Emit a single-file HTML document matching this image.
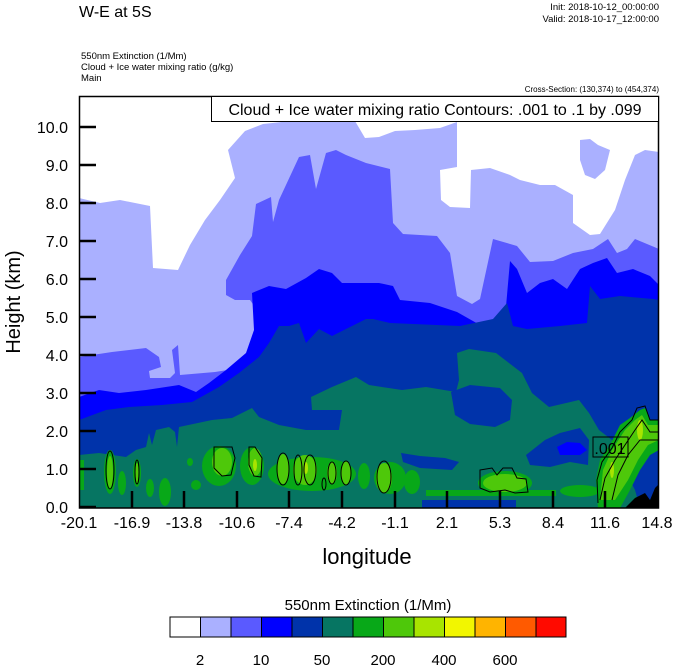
<!DOCTYPE html>
<html><head><meta charset="utf-8"><style>
html,body{margin:0;padding:0;background:#fff;}
svg{display:block;font-family:"Liberation Sans",sans-serif;}
</style></head><body>
<svg width="674" height="667" viewBox="0 0 674 667" xmlns="http://www.w3.org/2000/svg">
<rect width="674" height="667" fill="#fff"/>
<text x="79" y="17" font-size="16">W-E at 5S</text>
<text x="659" y="10" font-size="9.5" text-anchor="end">Init: 2018-10-12_00:00:00</text>
<text x="659" y="22" font-size="9.5" text-anchor="end">Valid: 2018-10-17_12:00:00</text>
<text x="81" y="59" font-size="9.5">550nm Extinction   (1/Mm)</text>
<text x="81" y="70" font-size="9.5">Cloud + Ice water mixing ratio   (g/kg)</text>
<text x="81" y="81" font-size="9.5">Main</text>
<text x="659" y="92" font-size="8" text-anchor="end">Cross-Section: (130,374) to (454,374)</text>
<defs><clipPath id="c"><rect x="79" y="96" width="580" height="412"/></clipPath></defs>
<g clip-path="url(#c)">
<rect x="79" y="96" width="580" height="412" fill="#fff"/>
<polygon fill="#aab0ff" points="79,198 100,203 120,200 150,206 153,268 178,270 190,245 205,220 220,200 235,178 228,150 245,131 263,124 300,120 330,118 355,121 365,138 379,137 395,131 415,130 440,128 457,122 457,167 440,170 441,200 450,207 470,208 471,170 490,168 510,175 520,180 540,185 555,185 573,195 573,223 590,235 600,234 615,210 625,180 635,155 645,150 659,152 659,508 79,508"/>
<polygon fill="#aab0ff" points="580,140 590,139 598,145 610,150 605,170 595,179 585,175 580,160"/>
<polygon fill="#5a5aff" points="79,357 112,352 146,348 159,357 161,367 149,371 150,378 170,378 175,373 172,350 178,345 180,375 215,372 240,368 252,355 258,340 257,310 250,300 235,300 226,295 226,280 240,255 252,236 256,204 271,197 273,222 279,200 299,157 310,155 316,189 326,153 336,150 346,155 366,163 390,169 393,223 403,234 437,236 450,253 457,296 472,304 480,299 493,239 517,246 530,262 553,261 573,253 593,249 608,239 617,253 627,249 635,239 659,249 659,508 79,508"/>
<polygon fill="#0000ff" points="79,397 99,390 119,393 146,390 179,385 196,392 209,383 226,370 246,353 254,330 252,293 269,286 286,289 306,278 319,269 332,273 342,283 379,283 393,286 400,300 430,303 457,312 480,325 500,326 505,318 510,261 517,269 527,293 540,283 553,279 567,289 580,269 593,263 607,258 617,273 633,269 650,276 659,285 659,508 79,508"/>
<polygon fill="#0033aa" points="79,420 106,410 129,407 162,405 192,402 219,387 239,373 259,357 269,343 279,326 289,326 299,323 306,343 319,329 332,336 346,329 366,319 373,319 390,323 460,326 493,319 507,303 513,326 527,329 560,326 587,323 590,286 600,299 620,296 653,299 659,300 659,508 79,508"/>
<polygon fill="#067562" points="79,455 99,453 126,457 136,450 146,447 149,433 152,445 156,430 169,427 175,432 177,447 179,427 212,420 232,418 252,408 259,417 279,425 306,430 339,430 342,410 312,410 311,397 332,387 356,377 369,385 402,390 426,387 456,392 459,380 457,353 469,349 496,353 522,373 532,393 549,407 579,400 589,413 599,430 612,440 625,470 635,490 640,508 79,508"/>
<polygon fill="#0033aa" points="451,392 470,385 500,388 512,400 510,420 495,427 470,424 455,415"/>
<polygon fill="#0033aa" points="401,453 420,456 445,458 459,462 452,470 420,468 403,462"/>
<polygon fill="#0033aa" points="526,455 545,440 560,433 580,428 589,440 588,465 570,462 550,467 530,465"/>
<polygon fill="#0000ff" points="557,447 567,442 580,443 587,450 580,455 560,455"/>
<rect x="422" y="500" width="94" height="8" fill="#0033aa"/>
<g fill="#08a818">
<rect x="79" y="460" width="5" height="30"/>
<ellipse cx="110" cy="472" rx="6" ry="22"/>
<ellipse cx="122" cy="483" rx="4" ry="12"/>
<ellipse cx="137" cy="473" rx="4" ry="14"/>
<ellipse cx="150" cy="488" rx="4" ry="9"/>
<ellipse cx="165" cy="492" rx="6" ry="14"/>
<ellipse cx="190" cy="462" rx="3" ry="4"/>
<ellipse cx="196" cy="485" rx="5" ry="5"/>
<ellipse cx="219" cy="466" rx="17" ry="20"/>
<ellipse cx="252" cy="466" rx="12" ry="19"/>
<ellipse cx="312" cy="474" rx="44" ry="17"/>
<ellipse cx="364" cy="476" rx="6" ry="13"/>
<ellipse cx="390" cy="478" rx="16" ry="16"/>
<ellipse cx="412" cy="482" rx="8" ry="12"/>
<rect x="426" y="490" width="130" height="6"/>
<ellipse cx="505" cy="483" rx="27" ry="12"/>
<ellipse cx="580" cy="491" rx="20" ry="6"/>
<polygon points="598,508 596,480 600,460 610,445 620,425 630,418 640,410 645,408 650,420 659,420 659,450 650,455 640,470 630,490 620,508"/>
</g>
<g fill="#4ec80a">
<ellipse cx="110" cy="472" rx="3" ry="16"/>
<ellipse cx="137" cy="473" rx="2" ry="10"/>
<ellipse cx="222" cy="462" rx="10" ry="14"/>
<ellipse cx="255" cy="462" rx="7" ry="14"/>
<ellipse cx="283" cy="469" rx="6" ry="15"/>
<ellipse cx="305" cy="470" rx="12" ry="15"/>
<ellipse cx="332" cy="473" rx="5" ry="11"/>
<ellipse cx="346" cy="473" rx="5" ry="12"/>
<ellipse cx="384" cy="478" rx="8" ry="15"/>
<ellipse cx="505" cy="483" rx="22" ry="9"/>
<polygon points="600,500 603,470 612,450 625,430 635,420 642,415 648,425 659,425 659,440 648,445 638,460 628,480 615,500"/>
</g>
<g fill="#a8e400">
<ellipse cx="255" cy="465" rx="2" ry="6"/>
<ellipse cx="306" cy="468" rx="2" ry="6"/>
<ellipse cx="612" cy="470" rx="2" ry="8"/>
<ellipse cx="640" cy="430" rx="3" ry="10"/>
</g>
<g fill="none" stroke="#000" stroke-width="1">
<ellipse cx="110" cy="470" rx="4" ry="19"/>
<ellipse cx="137" cy="472" rx="2" ry="12"/>
<polygon points="214,447 232,447 235,458 231,475 222,476 214,468"/>
<polygon points="249,447 255,447 262,458 261,477 254,476 249,465"/>
<ellipse cx="283" cy="469" rx="6" ry="16"/>
<ellipse cx="298" cy="470" rx="4" ry="15"/>
<ellipse cx="310" cy="470" rx="6" ry="15"/>
<ellipse cx="324" cy="484" rx="2" ry="6"/>
<ellipse cx="332" cy="473" rx="4" ry="11"/>
<ellipse cx="346" cy="473" rx="5" ry="12"/>
<ellipse cx="384" cy="477" rx="7" ry="16"/>
<polygon points="480,470 492,468 497,475 503,468 512,468 517,478 526,479 528,492 515,493 505,490 490,492 480,488"/>
<polyline points="598,503 597,480 602,462 612,448 620,432 632,420 637,408 645,406 650,420 659,420"/>
<polyline points="600,500 605,478 615,460 625,445 635,430 642,420 650,432 659,432"/>
<polyline points="612,500 618,475 628,455 640,440 648,440 659,440"/>
</g>
<rect x="593" y="437" width="35" height="20" fill="none" stroke="#000"/>
<text x="610" y="454" font-size="16" text-anchor="middle">.001</text>
<polygon fill="#000" points="625,508 635,498 645,493 650,500 655,488 659,484 659,508"/>
</g>
<rect x="79.5" y="96.5" width="579" height="411.5" fill="none" stroke="#000" stroke-width="1.5"/>
<rect x="211.5" y="96.5" width="447" height="25" fill="#fff" stroke="#000"/>
<text x="435" y="115" font-size="16" text-anchor="middle">Cloud + Ice water mixing ratio Contours: .001 to .1 by .099</text>
<g stroke="#000" stroke-width="2.5">
<line x1="79" y1="507" x2="96" y2="507"/><line x1="79" y1="469" x2="96" y2="469"/><line x1="79" y1="431" x2="96" y2="431"/><line x1="79" y1="393" x2="96" y2="393"/><line x1="79" y1="355" x2="96" y2="355"/><line x1="79" y1="317" x2="96" y2="317"/><line x1="79" y1="279" x2="96" y2="279"/><line x1="79" y1="241" x2="96" y2="241"/><line x1="79" y1="203" x2="96" y2="203"/><line x1="79" y1="165" x2="96" y2="165"/><line x1="79" y1="127" x2="96" y2="127"/>
<line x1="132" y1="508" x2="132" y2="491"/><line x1="184" y1="508" x2="184" y2="491"/><line x1="237" y1="508" x2="237" y2="491"/><line x1="289" y1="508" x2="289" y2="491"/><line x1="342" y1="508" x2="342" y2="491"/><line x1="395" y1="508" x2="395" y2="491"/><line x1="447" y1="508" x2="447" y2="491"/><line x1="500" y1="508" x2="500" y2="491"/><line x1="553" y1="508" x2="553" y2="491"/><line x1="605" y1="508" x2="605" y2="491"/>
</g>
<g font-size="16" text-anchor="end">
<text x="68" y="513">0.0</text><text x="68" y="475">1.0</text><text x="68" y="437">2.0</text><text x="68" y="399">3.0</text><text x="68" y="361">4.0</text><text x="68" y="323">5.0</text><text x="68" y="285">6.0</text><text x="68" y="247">7.0</text><text x="68" y="209">8.0</text><text x="68" y="171">9.0</text><text x="68" y="133">10.0</text>
</g>
<g font-size="16" text-anchor="middle">
<text x="79" y="528">-20.1</text><text x="132" y="528">-16.9</text><text x="184" y="528">-13.8</text><text x="237" y="528">-10.6</text><text x="289" y="528">-7.4</text><text x="342" y="528">-4.2</text><text x="395" y="528">-1.1</text><text x="447" y="528">2.1</text><text x="500" y="528">5.3</text><text x="553" y="528">8.4</text><text x="605" y="528">11.6</text><text x="657" y="528">14.8</text>
</g>
<text x="367" y="564" font-size="22" text-anchor="middle">longitude</text>
<text transform="translate(20,302) rotate(-90)" font-size="20" text-anchor="middle">Height (km)</text>
<text x="368" y="610" font-size="15" text-anchor="middle">550nm Extinction  (1/Mm)</text>
<g stroke="#000" stroke-width="1">
<rect x="170" y="617" width="30.5" height="20" fill="#ffffff"/>
<rect x="200.5" y="617" width="30.5" height="20" fill="#aab0ff"/>
<rect x="231" y="617" width="30.5" height="20" fill="#5a5aff"/>
<rect x="261.5" y="617" width="30.5" height="20" fill="#0000ff"/>
<rect x="292" y="617" width="30.5" height="20" fill="#0033aa"/>
<rect x="322.5" y="617" width="30.5" height="20" fill="#067562"/>
<rect x="353" y="617" width="30.5" height="20" fill="#08a818"/>
<rect x="383.5" y="617" width="30.5" height="20" fill="#4ec80a"/>
<rect x="414" y="617" width="30.5" height="20" fill="#a8e400"/>
<rect x="444.5" y="617" width="30.5" height="20" fill="#f2f600"/>
<rect x="475" y="617" width="30.5" height="20" fill="#ffb400"/>
<rect x="505.5" y="617" width="30.5" height="20" fill="#ff5a00"/>
<rect x="536" y="617" width="30" height="20" fill="#ff0a00"/>
</g>
<g font-size="15" text-anchor="middle">
<text x="200" y="665">2</text><text x="261" y="665">10</text><text x="322" y="665">50</text><text x="383" y="665">200</text><text x="444" y="665">400</text><text x="505" y="665">600</text>
</g>
</svg>
</body></html>
